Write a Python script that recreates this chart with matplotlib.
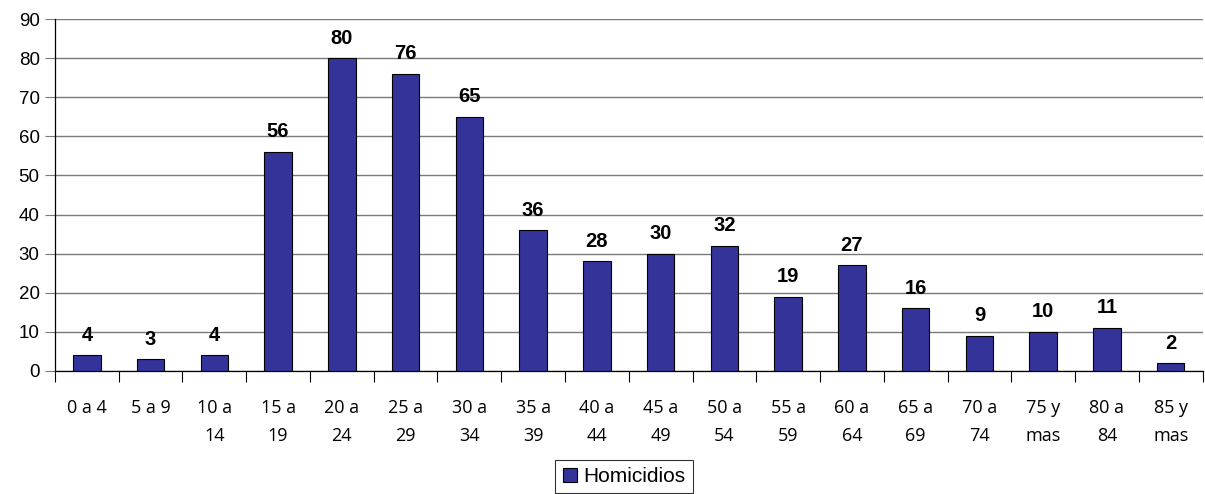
import matplotlib
matplotlib.use("Agg")
import matplotlib.pyplot as plt

# datos
grupos = ["0 a 4", "5 a 9", "10 a\n14", "15 a\n19", "20 a\n24", "25 a\n29", "30 a\n34",
          "35 a\n39", "40 a\n44", "45 a\n49", "50 a\n54", "55 a\n59", "60 a\n64",
          "65 a\n69", "70 a\n74", "75 y\nmas", "80 a\n84", "85 y\nmas"]
homicidios = [4, 3, 4, 56, 80, 76, 65, 36, 28, 30, 32, 19, 27, 16, 9, 10, 11, 2]
y_ticks = list(range(0, 100, 10))

plt.rcParams["font.family"] = ["Liberation Sans", "DejaVu Sans"]

fig = plt.figure(figsize=(12.05, 4.94), dpi=100)
ax = fig.add_axes([0.0456, 0.249, 0.9524, 0.7125])

x = list(range(len(grupos)))
bars = ax.bar(x, homicidios, width=0.43, color="#333399", edgecolor="black",
              linewidth=0.8, label="Homicidios", zorder=3)

for xi, v in zip(x, homicidios):
    ax.text(xi, v + 2.7, str(v), ha="center", va="bottom", fontsize=14.5,
            fontweight="bold", color="black")

ax.set_xlim(-0.5, len(grupos) - 0.5)
ax.set_ylim(0, 90)
ax.set_yticks(y_ticks)
ax.yaxis.grid(True, color="#7a7a7a", linewidth=1.0, zorder=0)
ax.tick_params(axis="y", labelsize=13.5, length=7, width=0.8, pad=4,
               color="#7a7a7a")

# marcas del eje x entre categorías
ax.set_xticks([i - 0.5 for i in range(len(grupos) + 1)])
ax.set_xticklabels([])
ax.set_xticks(x, minor=True)
ax.set_xticklabels(grupos, minor=True, fontsize=13, fontfamily="Open Sans",
                   linespacing=1.75, va="top")
ax.tick_params(axis="x", which="major", length=8, width=0.8)
ax.tick_params(axis="x", which="minor", length=0, pad=20)

for side in ["top", "right"]:
    ax.spines[side].set_visible(False)
ax.spines["left"].set_linewidth(0.9)
ax.spines["bottom"].set_linewidth(0.9)

leg = fig.legend(handles=[bars], labels=["Homicidios"], loc="lower center",
                 bbox_to_anchor=(0.518, -0.02), fontsize=15, frameon=True,
                 fancybox=False, edgecolor="black", handlelength=0.7,
                 handleheight=0.7, handletextpad=0.3, borderpad=0.35)
leg.get_frame().set_linewidth(0.8)

fig.savefig("out.png", dpi=100)
